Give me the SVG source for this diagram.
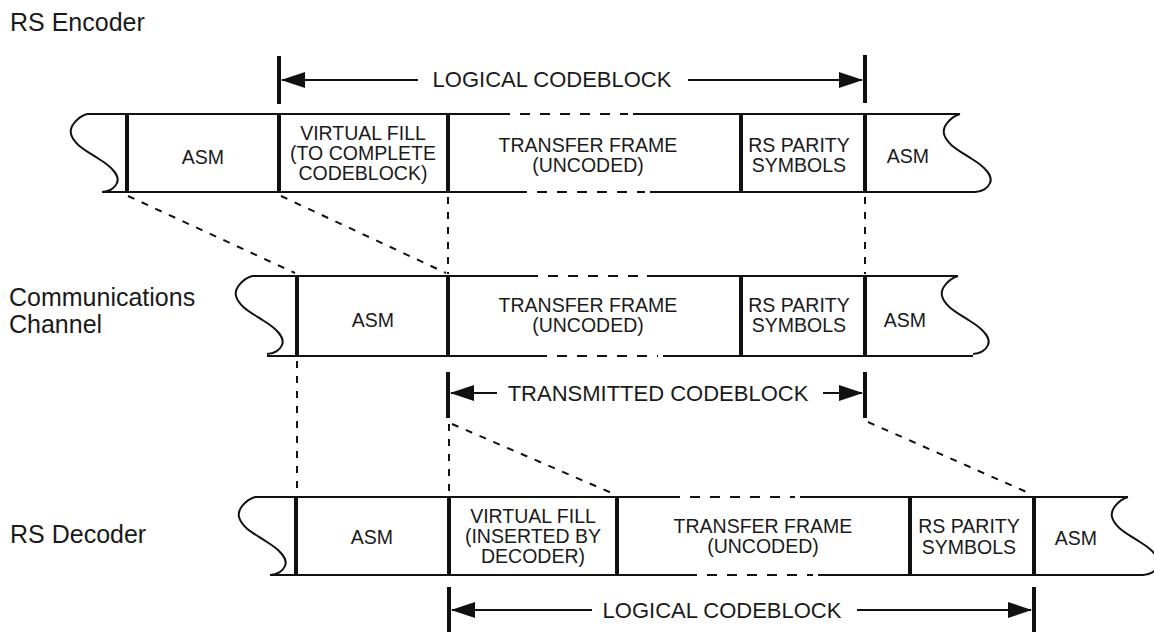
<svg xmlns="http://www.w3.org/2000/svg" xmlns:xlink="http://www.w3.org/1999/xlink" width="1154" height="632" viewBox="0 0 1154 632">
<style>
.t{font-family:"Liberation Sans",Arial,Helvetica,sans-serif;font-size:19.5px;fill:#1a1a1a;text-anchor:middle}
.title{font-size:25px;text-anchor:start}
.lbl{font-size:22px}
.thin{stroke:#111;stroke-width:2;fill:none}
.thick{stroke:#111;stroke-width:4;fill:none}
.dash{stroke:#111;stroke-width:2;stroke-dasharray:10 10;fill:none}
.conn{stroke:#111;stroke-width:2;stroke-dasharray:7 8;fill:none}
.arr{stroke:#111;stroke-width:2;fill:none;marker-end:url(#ah)}
</style>
<defs>
<marker id="ah" viewBox="0 0 24 16" markerWidth="24" markerHeight="16" refX="23" refY="8" orient="auto" markerUnits="userSpaceOnUse">
<path d="M0,0 L24,8 L0,16 z" fill="#111"/>
</marker>
<path id="wave" d="M0,0 C-9,3 -18,12 -16,20 C-13,31 0,37 12,45 C25,53 33,62 30,69 C28,74 22,78 15,78" fill="none" stroke="#111" stroke-width="2"/>
</defs>
<rect width="1154" height="632" fill="#fff"/>

<g id="titles">
<text class="t title" x="10" y="31">RS Encoder</text>
<text class="t title" x="9" y="306">Communications</text>
<text class="t title" x="9" y="333">Channel</text>
<text class="t title" x="10" y="543">RS Decoder</text>
</g>

<g id="encoder">
<use xlink:href="#wave" x="87" y="114"/>
<use xlink:href="#wave" x="960" y="114"/>
<path class="thin" d="M87,114 H510 M633,114 H960 M102,192 H527 M650,192 H975"/>
<line class="dash" x1="520" y1="114" x2="628" y2="114"/>
<line class="dash" x1="537" y1="192" x2="645" y2="192"/>
<path class="thick" d="M127,114 V192 M279,114 V192 M448,114 V192 M741,114 V192 M865,114 V192"/>
<text class="t" x="203" y="164">ASM</text>
<text class="t" x="363" y="140">VIRTUAL FILL</text>
<text class="t" x="363" y="160">(TO COMPLETE</text>
<text class="t" x="363" y="180">CODEBLOCK)</text>
<text class="t" x="588" y="152">TRANSFER FRAME</text>
<text class="t" x="588" y="172">(UNCODED)</text>
<text class="t" x="799" y="152">RS PARITY</text>
<text class="t" x="799" y="172">SYMBOLS</text>
<text class="t" x="908" y="163">ASM</text>
</g>

<g id="channel">
<use xlink:href="#wave" x="252" y="276"/>
<use xlink:href="#wave" x="958" y="276"/>
<path class="thin" d="M252,276 H538 M647,276 H958 M267,356 H547 M663,356 H973"/>
<line class="dash" x1="548" y1="276" x2="642" y2="276"/>
<line class="dash" x1="557" y1="356" x2="658" y2="356"/>
<path class="thick" d="M297,276 V356 M448,276 V356 M741,276 V356 M865,276 V356"/>
<text class="t" x="373" y="327">ASM</text>
<text class="t" x="588" y="312">TRANSFER FRAME</text>
<text class="t" x="588" y="332">(UNCODED)</text>
<text class="t" x="799" y="312">RS PARITY</text>
<text class="t" x="799" y="332">SYMBOLS</text>
<text class="t" x="905" y="327">ASM</text>
</g>

<g id="decoder">
<use xlink:href="#wave" x="255" y="497"/>
<use xlink:href="#wave" x="1128" y="497"/>
<path class="thin" d="M255,497 H680 M800,497 H1128 M270,575 H697 M818,575 H1143"/>
<line class="dash" x1="690" y1="497" x2="795" y2="497"/>
<line class="dash" x1="707" y1="575" x2="813" y2="575"/>
<path class="thick" d="M296,497 V575 M449,497 V575 M617,497 V575 M910,497 V575 M1034,497 V575"/>
<text class="t" x="372" y="544">ASM</text>
<text class="t" x="533" y="523">VIRTUAL FILL</text>
<text class="t" x="533" y="543">(INSERTED BY</text>
<text class="t" x="533" y="563">DECODER)</text>
<text class="t" x="763" y="533">TRANSFER FRAME</text>
<text class="t" x="763" y="553">(UNCODED)</text>
<text class="t" x="969" y="533">RS PARITY</text>
<text class="t" x="969" y="554">SYMBOLS</text>
<text class="t" x="1076" y="545">ASM</text>
</g>

<g id="dimensions">
<path class="thick" d="M279,56 V104 M865,55 V103 M448,372 V418 M865,372 V418 M449,587 V632 M1034,587 V632"/>
<line class="arr" x1="418" y1="80" x2="282" y2="80"/>
<line class="arr" x1="688" y1="80" x2="862" y2="80"/>
<text class="t lbl" x="552" y="87">LOGICAL CODEBLOCK</text>
<line class="arr" x1="497" y1="393" x2="451" y2="393"/>
<line class="arr" x1="823" y1="393" x2="862" y2="393"/>
<text class="t lbl" x="658" y="401">TRANSMITTED CODEBLOCK</text>
<line class="arr" x1="592" y1="610" x2="452" y2="610"/>
<line class="arr" x1="857" y1="610" x2="1031" y2="610"/>
<text class="t lbl" x="722" y="618">LOGICAL CODEBLOCK</text>
</g>

<g id="connectors">
<line class="conn" x1="128" y1="196" x2="295" y2="273"/>
<line class="conn" x1="281" y1="196" x2="446" y2="273"/>
<line class="conn" x1="448" y1="197" x2="448" y2="274"/>
<line class="conn" x1="865" y1="197" x2="865" y2="274"/>
<line class="conn" x1="297" y1="361" x2="297" y2="495"/>
<line class="conn" x1="449" y1="424" x2="449" y2="495"/>
<line class="conn" x1="452" y1="424" x2="614" y2="494"/>
<line class="conn" x1="868" y1="422" x2="1031" y2="494"/>
</g>
</svg>
